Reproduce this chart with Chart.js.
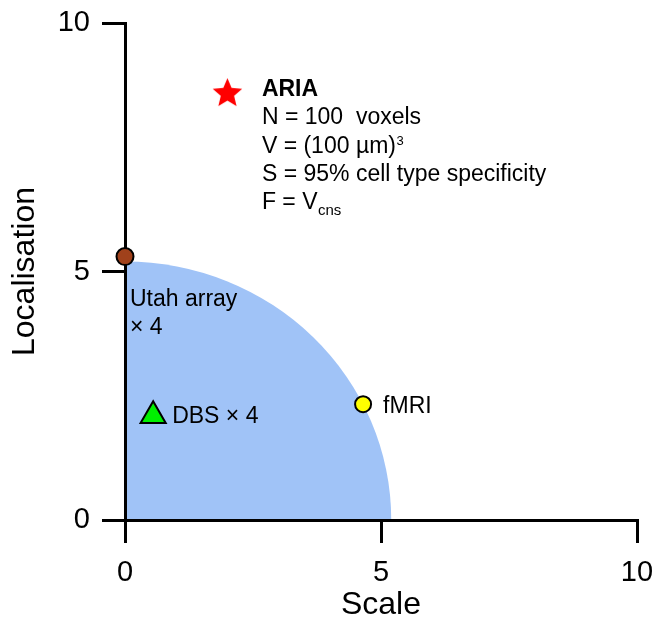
<!DOCTYPE html>
<html>
<head>
<meta charset="utf-8">
<script src="https://cdn.jsdelivr.net/npm/chart.js@4/dist/chart.umd.min.js"></script>
<style>
  html, body { margin: 0; padding: 0; background: #fff; }
  #canvasContainer { width: 655px; height: 624px; }
</style>
</head>
<body>
<div id="canvasContainer"><canvas id="chartCanvas"></canvas></div>
<script>
var FONT = '"Liberation Sans", Arial, Helvetica, sans-serif';

// data
var methods = ['ARIA', 'Utah array', 'fMRI', 'DBS'];
var scaleValues = [2.0, 0, 4.65, 0.55];
var localisationValues = [8.6, 5.3, 2.33, 2.1];
var regionRadius = 5.2;
var xTicks = [0, 5, 10];
var yTicks = [0, 5, 10];

// annotation text, one entry of runs per line
var ariaLines = [
  [{ t: 'ARIA', bold: true }],
  [{ t: 'N = 100  voxels' }],
  [{ t: 'V = (100 µm)' }, { t: '3', sup: true }],
  [{ t: 'S = 95% cell type specificity' }],
  [{ t: 'F = V' }, { t: 'cns', sub: true }]
];
var utahLines = [[{ t: 'Utah array' }], [{ t: '× 4' }]];
var fmriLines = [[{ t: 'fMRI' }]];
var dbsLines = [[{ t: 'DBS × 4' }]];

// styles
var MARKERS = {
  'ARIA':       { style: makeStar(15.5, 7, '#ff0000'), radius: 15, bg: '#ff0000', border: '#ff0000', bw: 0 },
  'Utah array': { style: 'circle', radius: 8.5, bg: '#a0411b', border: '#000', bw: 2 },
  'fMRI':       { style: 'circle', radius: 8, bg: '#ffff00', border: '#000', bw: 2 },
  'DBS':        { style: 'triangle', radius: 14.5, bg: '#00f000', border: '#000', bw: 2 }
};
var LABELS = {
  'ARIA':       { lines: ariaLines, dx: 34.5, dy: 3.6, step: 28.3 },
  'Utah array': { lines: utahLines, dx: 5, dy: 49, step: 28 },
  'fMRI':       { lines: fmriLines, dx: 20, dy: 9, step: 28 },
  'DBS':        { lines: dbsLines, dx: 19, dy: 7, step: 28 }
};
var REGION_COLOR = 'rgb(160, 195, 247)';

function makeStar(R, r, color) {
  var c = document.createElement('canvas');
  var s = Math.ceil(R * 2 + 2);
  c.width = s; c.height = s;
  var g = c.getContext('2d');
  g.fillStyle = color;
  g.beginPath();
  for (var k = 0; k < 10; k++) {
    var rad = k % 2 ? r : R;
    var a = -Math.PI / 2 + k * Math.PI / 5;
    g.lineTo(s / 2 + rad * Math.cos(a), s / 2 + rad * Math.sin(a) + 1);
  }
  g.closePath();
  g.fill();
  return c;
}

var regionPlugin = {
  id: 'region',
  beforeDraw: function(chart) {
    var ctx = chart.ctx, xs = chart.scales.x, ys = chart.scales.y;
    var x0 = xs.getPixelForValue(0), y0 = ys.getPixelForValue(0);
    var rx = xs.getPixelForValue(regionRadius) - x0;
    var ry = y0 - ys.getPixelForValue(regionRadius);
    ctx.save();
    ctx.fillStyle = REGION_COLOR;
    ctx.beginPath();
    ctx.moveTo(x0, y0);
    ctx.ellipse(x0, y0, rx, ry, 0, -Math.PI / 2, 0);
    ctx.closePath();
    ctx.fill();
    ctx.restore();
  }
};

function drawRuns(ctx, x, y, runs) {
  runs.forEach(function(run) {
    var size = 23, dy = 0;
    if (run.sup) { size = 13; dy = -8; }
    if (run.sub) { size = 15; dy = 6; }
    ctx.font = (run.bold ? 'bold ' : '') + size + 'px ' + FONT;
    ctx.fillText(run.t, x, y + dy);
    x += ctx.measureText(run.t).width + 0.5;
  });
}

var labelPlugin = {
  id: 'labels',
  afterDatasetsDraw: function(chart) {
    var ctx = chart.ctx;
    ctx.save();
    ctx.fillStyle = '#000';
    ctx.textBaseline = 'alphabetic';
    ctx.textAlign = 'left';
    methods.forEach(function(name, i) {
      var pt = chart.getDatasetMeta(i).data[0];
      var lab = LABELS[name];
      lab.lines.forEach(function(runs, j) {
        drawRuns(ctx, pt.x + lab.dx, pt.y + lab.dy + j * lab.step, runs);
      });
    });
    ctx.restore();
  }
};

var datasets = methods.map(function(name, i) {
  var m = MARKERS[name];
  return {
    label: name,
    data: [{ x: scaleValues[i], y: localisationValues[i] }],
    pointStyle: m.style,
    pointRadius: m.radius,
    pointHoverRadius: m.radius,
    backgroundColor: m.bg,
    borderColor: m.border,
    borderWidth: m.bw,
    clip: false
  };
});

function axis(ticks, title, fit) {
  return {
    type: 'linear',
    min: 0,
    max: 10,
    afterBuildTicks: function(s) { s.ticks = ticks.map(function(v) { return { value: v }; }); },
    afterFit: function(s) {
      fit(s);
      s.paddingLeft = 0; s.paddingRight = 0; s.paddingTop = 0; s.paddingBottom = 0;
    },
    ticks: { color: '#000', font: { family: FONT, size: 29 }, padding: 13 },
    grid: { drawOnChartArea: false, color: '#000', lineWidth: 3, tickLength: 23 },
    border: { color: '#000', width: 3 },
    title: { display: true, text: title, color: '#000', font: { family: FONT, size: 32 }, padding: { top: 0, bottom: 0 } }
  };
}

var xAxis = axis(xTicks, 'Scale', function(s) { s.height = 104; });
var yAxis = axis(yTicks, 'Localisation', function(s) { s.width = 125; });
yAxis.ticks.padding = 12;
yAxis.title.padding = { top: 6, bottom: 0 };

new Chart(document.getElementById('chartCanvas'), {
  type: 'scatter',
  data: { datasets: datasets },
  options: {
    responsive: true,
    maintainAspectRatio: false,
    animation: false,
    layout: { padding: { left: 0, right: 18, top: 23, bottom: 0 } },
    plugins: { legend: { display: false }, tooltip: { enabled: false } },
    scales: { x: xAxis, y: yAxis }
  },
  plugins: [regionPlugin, labelPlugin]
});
</script>
</body>
</html>
